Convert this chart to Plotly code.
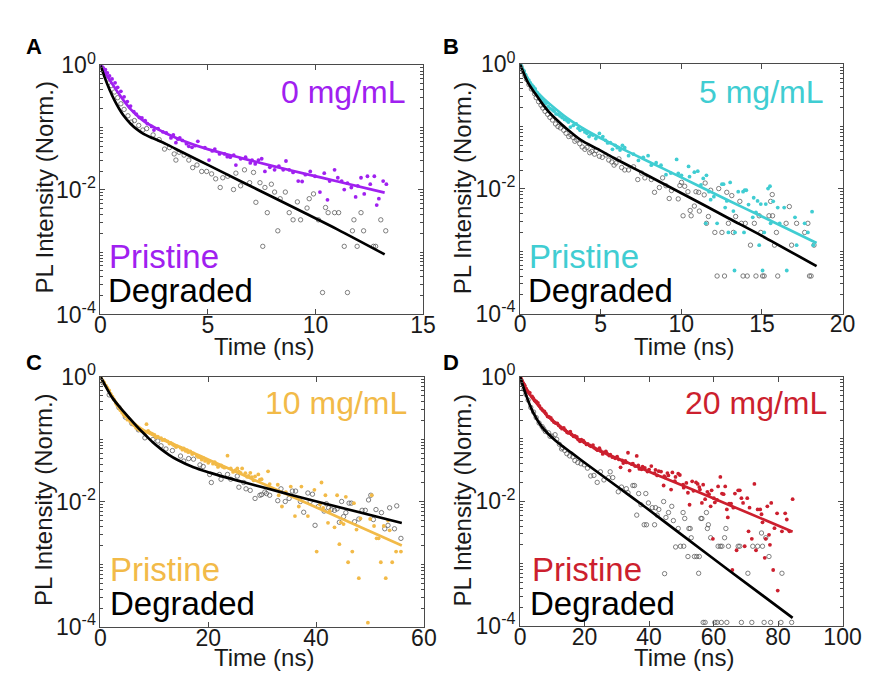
import plotly.graph_objects as go

# ---------------- data (time in ns, normalized PL intensity) ----------------
A_pristine_pts = [(0.05,0.98),(0.12,0.90),(0.23,0.85),(0.32,0.75),(0.42,0.67),(0.54,0.60),(0.68,0.52),(0.80,0.44),(0.95,0.38),(1.10,0.31),(1.25,0.26),(1.40,0.22),(1.55,0.18),(1.67,0.163),(1.81,0.145),(1.93,0.142),(2.08,0.129),(2.18,0.115),(2.38,0.104),(2.49,0.091),(2.68,0.096),(2.90,0.085),(3.06,0.082),(3.28,0.068),(3.39,0.076),(3.51,0.057),(3.60,0.065),(3.69,0.068),(3.81,0.062),(4.00,0.055),(4.11,0.050),(4.26,0.048),(4.40,0.051),(4.53,0.060),(4.86,0.0475),(5.05,0.030),(5.20,0.042),(5.32,0.045),(5.54,0.0376),(5.77,0.0376),(5.90,0.034),(6.04,0.0334),(6.20,0.036),(6.30,0.0249),(6.52,0.0315),(6.75,0.0334),(6.97,0.027),(7.05,0.030),(7.20,0.026),(7.35,0.030),(7.50,0.0315),(7.65,0.0197),(7.88,0.023),(8.10,0.0209),(8.30,0.024),(8.50,0.021),(8.63,0.029),(8.78,0.0209),(8.96,0.019),(9.20,0.0138),(9.38,0.0136),(9.53,0.0175),(9.76,0.0197),(9.98,0.0165),(10.21,0.0092),(10.41,0.0185),(10.56,0.0069),(10.66,0.0138),(10.89,0.0209),(11.04,0.0156),(11.22,0.0138),(11.34,0.0101),(11.49,0.0128),(11.67,0.0109),(11.87,0.0077),(11.97,0.0116),(12.12,0.0156),(12.27,0.0086),(12.42,0.0165),(12.55,0.0123),(12.74,0.0165),(12.85,0.0057),(12.95,0.0072),(13.15,0.0138),(13.30,0.0123)]
A_degraded_pts = [(0.08,0.90),(0.20,0.75),(0.35,0.60),(0.50,0.47),(0.65,0.37),(0.80,0.30),(0.95,0.24),(1.10,0.195),(1.28,0.154),(1.43,0.122),(1.58,0.129),(1.78,0.108),(1.97,0.091),(2.15,0.096),(2.45,0.076),(2.73,0.064),(2.98,0.045),(3.21,0.0475),(3.43,0.0376),(3.51,0.030),(3.66,0.040),(3.89,0.036),(4.11,0.030),(4.29,0.0227),(4.49,0.025),(4.71,0.0197),(4.94,0.0197),(5.17,0.018),(5.36,0.015),(5.57,0.0109),(5.69,0.0156),(5.92,0.0165),(6.19,0.0101),(6.30,0.0185),(6.52,0.0116),(6.70,0.0209),(6.94,0.013),(7.12,0.019),(7.23,0.0063),(7.42,0.013),(7.55,0.00124),(7.65,0.0109),(7.76,0.0043),(7.95,0.0123),(8.10,0.0092),(8.25,0.0022),(8.36,0.0072),(8.60,0.0092),(8.78,0.0043),(8.96,0.0033),(9.16,0.0064),(9.31,0.0033),(9.61,0.0051),(9.71,0.0072),(9.91,0.0086),(10.14,0.0033),(10.33,0.000225),(10.47,0.0052),(10.59,0.0043),(10.89,0.0043),(11.08,0.0043),(11.34,0.00124),(11.49,0.000225),(11.72,0.0022),(11.79,0.0033),(11.94,0.00124),(12.12,0.0043),(12.24,0.0022),(12.70,0.00124),(12.80,0.00124),(13.04,0.0033),(13.27,0.0022)]
A_fit_pristine_t = [0, 0.27, 0.5, 0.8, 1.1, 1.4, 1.7, 2.0, 2.45, 3.06, 3.81, 5.02, 6.52, 8.03, 9.53, 11.04, 13.22]
A_fit_pristine_i = [1, 0.70, 0.53, 0.37, 0.265, 0.197, 0.156, 0.128, 0.103, 0.080, 0.062, 0.0445, 0.0325, 0.0240, 0.0180, 0.0136, 0.0090]
A_fit_degraded_t = [0, 0.2, 0.42, 0.65, 0.87, 1.1, 1.4, 1.7, 2.0, 2.45, 3.06, 3.81, 5.02, 6.52, 8.03, 9.53, 11.04, 13.22]
A_fit_degraded_i = [1, 0.63, 0.407, 0.275, 0.20, 0.151, 0.115, 0.093, 0.079, 0.067, 0.054, 0.040, 0.0249, 0.0137, 0.0076, 0.0042, 0.0023, 0.00092]

B_pristine_pts = [(0.05,0.95),(0.14,0.86),(0.24,0.78),(0.34,0.68),(0.44,0.60),(0.54,0.556),(0.64,0.50),(0.74,0.46),(0.84,0.43),(0.94,0.40),(1.05,0.35),(1.15,0.324),(1.25,0.30),(1.35,0.275),(1.48,0.25),(1.61,0.236),(1.74,0.21),(1.87,0.194),(2.0,0.185),(2.11,0.176),(2.23,0.16),(2.35,0.157),(2.48,0.148),(2.61,0.139),(2.76,0.13),(2.91,0.124),(3.0,0.118),(3.12,0.098),(3.3,0.104),(3.48,0.110),(3.6,0.094),(3.72,0.087),(3.9,0.09),(4.02,0.082),(4.15,0.078),(4.28,0.069),(4.4,0.075),(4.52,0.073),(4.7,0.064),(4.92,0.0775),(5.13,0.069),(5.3,0.06),(5.43,0.0545),(5.6,0.055),(5.73,0.043),(5.9,0.05),(6.03,0.0457),(6.2,0.042),(6.35,0.05),(6.49,0.0457),(6.73,0.034),(7.04,0.036),(7.34,0.0286),(7.64,0.0321),(7.94,0.034),(8.14,0.024),(8.44,0.0263),(8.74,0.024),(9.05,0.0169),(9.35,0.0179),(9.71,0.0296),(9.81,0.0177),(10.01,0.0165),(10.45,0.0229),(10.51,0.0157),(10.81,0.0185),(11.02,0.0192),(11.22,0.0116),(11.36,0.0147),(11.52,0.0028),(11.56,0.0165),(11.72,0.009),(11.82,0.0067),(12.02,0.0075),(12.22,0.0028),(12.52,0.0119),(12.62,0.0119),(12.72,0.005),(12.82,0.0064),(12.92,0.002),(13.03,0.0127),(13.23,0.0044),(13.30,0.00049),(13.33,0.002),(13.53,0.009),(13.83,0.009),(13.89,0.002),(13.93,0.0095),(14.03,0.0095),(14.17,0.0056),(14.43,0.0035),(14.49,0.0072),(14.63,0.0042),(14.73,0.0064),(14.83,0.00125),(14.93,0.0057),(15.04,0.00049),(15.14,0.002),(15.24,0.0057),(15.38,0.0101),(15.50,0.011),(15.54,0.0028),(15.70,0.0063),(15.98,0.005),(16.10,0.0028),(16.38,0.005),(16.54,0.00049),(17.05,0.0035),(17.15,0.00125),(17.65,0.0028),(17.85,0.002),(18.11,0.0043),(18.19,0.00125)]
B_degraded_pts = [(0.05,0.92),(0.20,0.76),(0.3,0.65),(0.40,0.57),(0.55,0.47),(0.70,0.40),(0.90,0.336),(1.0,0.29),(1.15,0.25),(1.3,0.22),(1.41,0.198),(1.55,0.175),(1.71,0.157),(1.85,0.14),(2.01,0.127),(2.2,0.11),(2.35,0.100),(2.5,0.095),(2.71,0.087),(2.85,0.078),(3.02,0.069),(3.15,0.073),(3.28,0.067),(3.4,0.058),(3.52,0.061),(3.7,0.053),(3.85,0.047),(4.02,0.043),(4.15,0.046),(4.32,0.038),(4.45,0.04),(4.62,0.036),(4.72,0.041),(4.92,0.0333),(5.1,0.032),(5.33,0.0349),(5.5,0.029),(5.69,0.027),(5.83,0.024),(5.95,0.026),(6.13,0.0303),(6.3,0.022),(6.49,0.0201),(6.73,0.0201),(7.04,0.0226),(7.30,0.0141),(7.54,0.0179),(7.74,0.015),(8.14,0.0141),(8.34,0.0088),(8.64,0.0105),(8.84,0.015),(9.05,0.0112),(9.25,0.0070),(9.39,0.0094),(9.81,0.0069),(9.91,0.0113),(10.01,0.0127),(10.11,0.0037),(10.21,0.011),(10.41,0.009),(10.55,0.0045),(10.61,0.0037),(10.81,0.0053),(10.91,0.009),(11.08,0.0088),(11.12,0.0044),(11.42,0.008),(11.48,0.0124),(11.56,0.0028),(11.68,0.0036),(11.82,0.0095),(12.08,0.002),(12.22,0.0004),(12.32,0.0101),(12.52,0.002),(12.68,0.0004),(12.82,0.0088),(12.92,0.0028),(13.13,0.0078),(13.23,0.002),(13.37,0.0036),(13.63,0.0063),(13.73,0.0028),(13.83,0.0004),(13.97,0.0028),(14.09,0.0004),(14.29,0.00125),(14.53,0.0028),(14.63,0.0004),(14.83,0.0037),(14.93,0.002),(15.04,0.0004),(15.14,0.0004),(15.44,0.0037),(15.54,0.0063),(15.64,0.0081),(15.66,0.0037),(15.78,0.00125),(15.90,0.002),(15.98,0.0004),(16.50,0.0028),(16.70,0.0052),(16.84,0.00125),(17.15,0.0028),(17.65,0.002),(17.85,0.0028),(17.95,0.0004),(18.05,0.0004),(18.23,0.00125)]
B_fit_pristine_t = [0, 0.5, 0.96, 1.5, 2.17, 2.9, 3.78, 4.8, 5.79, 7.80, 9.71, 12.96, 14.97, 18.39]
B_fit_pristine_i = [1, 0.562, 0.380, 0.275, 0.195, 0.138, 0.0977, 0.0692, 0.0513, 0.0288, 0.0166, 0.00646, 0.00363, 0.00135]
B_fit_degraded_t = [0, 0.5, 0.96, 1.4, 1.77, 2.3, 2.77, 3.78, 4.8, 5.79, 7.8, 10.31, 12.96, 14.97, 18.39]
B_fit_degraded_i = [1, 0.501, 0.331, 0.229, 0.174, 0.126, 0.0977, 0.0603, 0.0437, 0.0316, 0.0170, 0.00776, 0.00335, 0.00178, 0.000575]

C_pristine_pts = [(0.42,0.86),(0.7,0.80),(1.02,0.72),(1.3,0.66),(1.62,0.60),(1.9,0.53),(2.22,0.48),(2.5,0.43),(2.83,0.378),(3.1,0.35),(3.43,0.317),(3.7,0.29),(4.03,0.265),(4.3,0.245),(4.63,0.231),(5.0,0.205),(5.53,0.191),(5.9,0.178),(6.25,0.166),(6.6,0.152),(7.04,0.144),(7.3,0.14),(7.64,0.135),(8.24,0.128),(8.54,0.174),(8.84,0.135),(9.1,0.128),(9.44,0.124),(9.7,0.12),(10.04,0.117),(10.3,0.107),(10.64,0.110),(11.24,0.104),(11.5,0.097),(11.85,0.098),(12.1,0.095),(12.45,0.0925),(12.8,0.085),(13.05,0.087),(13.4,0.083),(13.65,0.080),(14.0,0.075),(14.25,0.0766),(14.85,0.0731),(15.2,0.068),(15.45,0.0713),(15.8,0.065),(16.06,0.0665),(16.3,0.062),(16.66,0.0635),(17.0,0.058),(17.26,0.0592),(17.86,0.0545),(18.1,0.052),(18.46,0.0514),(18.8,0.047),(19.06,0.0502),(19.4,0.045),(19.66,0.0468),(20.0,0.042),(20.26,0.0447),(20.87,0.0406),(21.2,0.043),(21.47,0.0397),(21.8,0.036),(22.07,0.0379),(22.4,0.038),(22.67,0.0361),(23.0,0.035),(23.57,0.0545),(24.17,0.0341),(24.6,0.030),(25.07,0.0321),(25.4,0.034),(25.68,0.0303),(26.0,0.029),(26.28,0.0341),(26.88,0.0286),(27.2,0.025),(27.48,0.026),(27.8,0.029),(28.08,0.0248),(28.4,0.022),(28.68,0.0254),(29.28,0.0273),(29.58,0.0226),(29.89,0.0229),(31.09,0.0307),(31.39,0.0192),(32.89,0.0187),(33.07,0.0127),(33.67,0.0084),(34.40,0.0143),(35.30,0.0175),(36.08,0.0059),(36.80,0.0084),(37.28,0.0175),(38.48,0.0059),(39.69,0.0155),(40.11,0.0016),(40.71,0.009),(41.01,0.0203),(41.31,0.008),(41.73,0.0127),(42.21,0.0046),(42.51,0.0071),(43.42,0.0039),(43.90,0.0127),(44.32,0.0021),(44.62,0.0047),(45.10,0.0044),(45.52,0.012),(45.94,0.00108),(46.72,0.0016),(47.02,0.0095),(47.50,0.0036),(47.93,0.0006),(48.23,0.0054),(49.61,0.000117),(50.03,0.0053),(50.33,0.0127),(50.75,0.0041),(51.23,0.0026),(51.59,0.0026),(52.01,0.00108),(52.56,0.0041),(52.92,0.0006),(53.34,0.005),(53.64,0.0035),(54.12,0.00108),(54.84,0.0016),(55.74,0.0016)]
C_degraded_pts = [(0.42,0.80),(1.62,0.51),(3.43,0.32),(4.63,0.225),(5.83,0.178),(7.04,0.141),(8.24,0.105),(9.74,0.099),(10.64,0.0935),(11.24,0.0784),(12.15,0.0697),(13.35,0.0657),(14.85,0.0538),(15.45,0.0447),(16.36,0.049),(17.26,0.0479),(18.46,0.0388),(19.06,0.0366),(20.26,0.0273),(20.57,0.0203),(22.07,0.0273),(22.37,0.0229),(23.57,0.0273),(24.17,0.0229),(25.38,0.0257),(25.68,0.0171),(26.58,0.0203),(27.0,0.0161),(27.78,0.0152),(28.68,0.0113),(29.58,0.0127),(29.89,0.013),(30.49,0.0143),(30.79,0.0135),(31.39,0.0127),(32.89,0.0104),(33.49,0.0161),(34.28,0.0101),(35.0,0.0113),(35.60,0.0148),(36.20,0.0148),(37.10,0.0101),(37.70,0.0068),(38.48,0.0138),(38.91,0.0101),(39.33,0.0132),(39.81,0.0042),(40.41,0.0084),(41.49,0.0071),(41.91,0.0093),(42.33,0.008),(42.81,0.0075),(43.42,0.0073),(43.90,0.0077),(44.32,0.0047),(44.74,0.0101),(45.10,0.0058),(45.52,0.0067),(46.12,0.0095),(46.54,0.0095),(47.14,0.0048),(47.93,0.0053),(48.53,0.0073),(49.13,0.0073),(49.73,0.0107),(50.15,0.0127),(50.63,0.0052),(51.11,0.0075),(52.13,0.0067),(52.74,0.0037),(53.34,0.0042),(53.64,0.008),(54.54,0.0037),(54.96,0.0086),(55.74,0.0026)]
C_fit_pristine_t = [0, 1.62, 3.4, 5.23, 6.7, 8.24, 11.24, 14.25, 17.26, 20.26, 23.27, 26.28, 30.8, 35.6, 45.8, 55.9]
C_fit_pristine_i = [1, 0.575, 0.339, 0.219, 0.166, 0.135, 0.102, 0.0785, 0.0603, 0.0462, 0.0355, 0.0272, 0.0183, 0.0120, 0.0049, 0.0020]
C_fit_degraded_t = [0, 1.0, 2.22, 3.7, 5.23, 6.7, 8.24, 9.7, 11.24, 12.7, 14.25, 17.26, 20.26, 23.27, 26.28, 30.8, 35.6, 45.8, 55.9]
C_fit_degraded_i = [1, 0.692, 0.457, 0.316, 0.224, 0.162, 0.119, 0.0891, 0.0692, 0.0562, 0.0468, 0.0355, 0.0292, 0.0245, 0.0209, 0.0164, 0.0127, 0.00759, 0.00457]

D_pristine_pts = [(0.25,0.94),(0.50,0.88),(0.75,0.82),(1.01,0.78),(1.25,0.74),(1.51,0.71),(1.9,0.64),(2.31,0.59),(2.7,0.56),(3.02,0.55),(3.72,0.48),(4.1,0.45),(4.52,0.414),(5.0,0.40),(5.53,0.377),(6.0,0.34),(6.53,0.308),(7.0,0.29),(7.54,0.277),(8.0,0.255),(8.54,0.23),(9.0,0.225),(9.55,0.217),(10.0,0.20),(10.55,0.186),(11.0,0.18),(11.56,0.177),(12.0,0.165),(12.56,0.154),(13.0,0.146),(13.57,0.150),(14.0,0.138),(14.57,0.128),(15.0,0.125),(15.58,0.131),(16.0,0.118),(16.58,0.110),(17.0,0.112),(17.59,0.108),(18.0,0.098),(18.59,0.0918),(19.0,0.097),(19.60,0.094),(20.0,0.088),(20.60,0.0816),(21.0,0.083),(21.61,0.0788),(22.0,0.076),(22.61,0.0797),(23.0,0.072),(23.62,0.0684),(24.0,0.066),(24.62,0.071),(25.0,0.064),(25.63,0.0574),(26.0,0.061),(26.63,0.063),(27.0,0.058),(27.64,0.054),(28.0,0.056),(28.64,0.051),(29.5,0.049),(30.1,0.052),(30.65,0.047),(31.16,0.035),(31.66,0.0453),(32.0,0.041),(32.66,0.0443),(33.0,0.042),(33.47,0.060),(33.97,0.0311),(34.67,0.0394),(35.0,0.040),(35.68,0.0367),(36.18,0.0535),(36.68,0.0376),(37.0,0.033),(37.69,0.0326),(38.0,0.036),(38.69,0.0342),(39.5,0.030),(40.0,0.0322),(40.70,0.0367),(41.71,0.0283),(42.0,0.032),(42.5,0.026),(43.0,0.0304),(43.72,0.030),(44.52,0.0179),(44.72,0.0252),(45.0,0.024),(45.7,0.0283),(46.0,0.026),(46.83,0.0154),(47.24,0.029),(48.0,0.021),(48.2,0.0246),(49.05,0.0277),(49.55,0.0264),(50.55,0.0185),(50.75,0.0165),(51.56,0.0197),(52.06,0.0137),(52.56,0.0088),(53.37,0.0209),(53.77,0.0147),(54.57,0.0201),(55.08,0.019),(55.58,0.0169),(55.78,0.0154),(56.38,0.0094),(56.78,0.0185),(57.39,0.0108),(58.09,0.0142),(58.59,0.013),(59.10,0.0083),(59.40,0.015),(59.80,0.0025),(60.10,0.0112),(60.40,0.0096),(61.11,0.0105),(61.41,0.0173),(62.11,0.0246),(62.61,0.0133),(63.12,0.013),(63.62,0.0173),(64.12,0.0074),(64.42,0.0055),(64.82,0.0092),(65.43,0.0092),(65.83,0.00079),(66.13,0.0079),(66.63,0.0133),(67.14,0.00164),(67.64,0.015),(68.14,0.015),(68.64,0.0112),(69.15,0.0094),(69.65,0.0019),(70.45,0.0112),(70.85,0.0033),(71.16,0.0079),(71.86,0.0025),(72.66,0.019),(73.17,0.00164),(73.67,0.0074),(74.47,0.0074),(74.87,0.0062),(75.18,0.0046),(75.88,0.00124),(76.18,0.0025),(76.68,0.0083),(77.19,0.0029),(77.49,0.002),(77.89,0.0094),(78.49,0.00079),(78.89,0.0037),(79.70,0.0064),(79.90,0.00037),(81.21,0.0033),(82.21,0.0064),(82.71,0.0051),(83.52,0.0033),(84.52,0.0108)]
D_degraded_pts = [(0.4,0.85),(0.80,0.77),(1.2,0.63),(1.8,0.52),(2.5,0.42),(3.32,0.32),(4.2,0.27),(5.0,0.22),(5.9,0.18),(6.83,0.158),(7.3,0.145),(7.84,0.132),(8.84,0.125),(9.3,0.11),(9.85,0.111),(10.85,0.117),(11.36,0.0986),(12.2,0.082),(12.86,0.0692),(13.2,0.072),(13.87,0.0653),(14.5,0.058),(15.38,0.0535),(16.38,0.0516),(17.0,0.045),(17.89,0.0418),(18.9,0.040),(19.90,0.0385),(20.9,0.034),(21.91,0.0255),(22.9,0.026),(23.92,0.0201),(24.92,0.0297),(26.0,0.022),(27.44,0.024),(27.94,0.0297),(28.74,0.024),(30.45,0.0142),(31.46,0.0169),(32.96,0.0159),(33.47,0.0137),(34.97,0.0179),(35.48,0.0179),(36.18,0.006),(36.78,0.0133),(37.49,0.0088),(38.49,0.0042),(38.99,0.0133),(39.20,0.0042),(39.80,0.0094),(41.0,0.0079),(41.71,0.0042),(42.01,0.0079),(42.51,0.006),(43.02,0.0074),(44.52,0.0099),(44.82,0.00069),(45.23,0.0055),(46.03,0.0066),(47.04,0.0083),(47.54,0.0049),(48.24,0.00185),(49.05,0.00366),(49.75,0.0019),(50.55,0.0066),(50.75,0.0019),(51.06,0.0053),(52.06,0.0013),(52.36,0.00366),(52.76,0.00366),(53.07,0.0026),(54.07,0.0013),(54.77,0.0013),(55.38,0.0007),(55.58,0.0013),(56.08,0.0053),(56.38,0.0053),(56.78,0.000114),(57.39,0.000114),(57.79,0.0066),(58.09,0.00366),(58.39,0.0042),(59.10,0.0026),(60.40,0.000114),(61.11,0.000114),(61.41,0.0019),(62.11,0.0019),(62.41,0.000114),(62.61,0.0019),(63.42,0.0026),(63.82,0.00366),(64.12,0.000114),(64.62,0.0019),(67.64,0.0019),(68.14,0.0019),(68.64,0.000114),(70.65,0.0007),(71.86,0.000114),(72.16,0.0019),(73.67,0.0019),(74.87,0.0031),(75.18,0.0019),(75.68,0.000114),(76.18,0.0026),(77.19,0.0013),(77.69,0.000114),(80.90,0.000114),(81.21,0.0007),(84.22,0.000114)]
D_fit_pristine_t = [0, 1.81, 4.82, 8.84, 13.87, 18.89, 23.92, 28.94, 33.97, 38.99, 44.02, 51.56, 64.82, 84.52]
D_fit_pristine_i = [1, 0.631, 0.389, 0.224, 0.140, 0.0929, 0.0676, 0.0516, 0.0403, 0.0314, 0.0245, 0.0169, 0.00875, 0.00325]
D_fit_degraded_t = [0, 1.81, 3.82, 6.83, 10.85, 15.88, 20.90, 28.94, 38.99, 48.54, 64.82, 84.52]
D_fit_degraded_i = [1, 0.513, 0.282, 0.155, 0.0955, 0.0603, 0.0385, 0.0191, 0.00794, 0.00335, 0.000776, 0.000135]

x_ranges = {"A": [0, 15], "B": [0, 20], "C": [0, 60], "D": [0, 100]}
x_dticks = {"A": 5, "B": 5, "C": 20, "D": 20}
concentrations = {"A": "0 mg/mL", "B": "5 mg/mL", "C": "10 mg/mL", "D": "20 mg/mL"}
colors = {"A": "#A020F0", "B": "#40CDD2", "C": "#F2BA48", "D": "#CC1F2E"}
y_tickvals = [1e-4, 1e-2, 1]
y_ticktext = ["10<sup>-4</sup>", "10<sup>-2</sup>", "10<sup>0</sup>"]

# ---------------- layout helpers ----------------
W, H = 872, 673
FONT = "Liberation Sans, Arial, sans-serif"

def px(x):
    return x / W

def py(y):
    return 1 - y / H

# plot areas in pixels: x0, x1, y_top, y_bottom
boxes = {"A": (89, 421, 42, 303), "B": (521, 853, 41, 302),
         "C": (89, 422, 368, 630), "D": (521, 853, 368, 629)}
# text anchors in pixels
label_pos = {"A": (21, 22), "B": (450, 22), "C": (21, 353), "D": (450, 353)}
conc_pos = {"A": (405, 70), "B": (835, 70), "C": (407, 396), "D": (839, 396)}
pris_pos = {"A": (96, 242), "B": (528, 242), "C": (97, 570), "D": (531, 570)}
degr_pos = {"A": (95, 278), "B": (527, 278), "C": (97, 606), "D": (529, 606)}
ytitle_pos = {"A": (31, 170), "B": (462, 170), "C": (31, 497), "D": (462, 497)}
xtitle_pos = {"A": (257, 336), "B": (690, 336), "C": (257, 662), "D": (690, 662)}

minor_vals = [m * 10 ** e for e in range(-4, 0) for m in range(1, 10) if not (m == 1 and e % 2 == 0)]

fig = go.Figure()
layout = dict(width=W, height=H, margin=dict(l=0, r=0, t=0, b=0),
              paper_bgcolor="white", plot_bgcolor="white", showlegend=False,
              font=dict(family=FONT, color="#111"))
annotations = []

data = {
    "A": (A_pristine_pts, A_degraded_pts, A_fit_pristine_t, A_fit_pristine_i, A_fit_degraded_t, A_fit_degraded_i),
    "B": (B_pristine_pts, B_degraded_pts, B_fit_pristine_t, B_fit_pristine_i, B_fit_degraded_t, B_fit_degraded_i),
    "C": (C_pristine_pts, C_degraded_pts, C_fit_pristine_t, C_fit_pristine_i, C_fit_degraded_t, C_fit_degraded_i),
    "D": (D_pristine_pts, D_degraded_pts, D_fit_pristine_t, D_fit_pristine_i, D_fit_degraded_t, D_fit_degraded_i),
}

for k, key in enumerate(["A", "B", "C", "D"]):
    idx = "" if k == 0 else str(k + 1)
    xa, ya = "x" + idx, "y" + idx
    pris, degr, fpt, fpi, fdt, fdi = data[key]
    col = colors[key]

    fig.add_trace(go.Scatter(x=[p[0] for p in degr], y=[p[1] for p in degr], mode="markers",
                             marker=dict(symbol="circle-open", size=4.4, color="#555555", line=dict(width=0.75)),
                             xaxis=xa, yaxis=ya, hoverinfo="skip"))
    fig.add_trace(go.Scatter(x=[p[0] for p in pris], y=[p[1] for p in pris], mode="markers",
                             marker=dict(symbol="circle", size=3.8, color=col),
                             xaxis=xa, yaxis=ya, hoverinfo="skip"))
    fig.add_trace(go.Scatter(x=fpt, y=fpi, mode="lines", line=dict(color=col, width=2.7, shape="spline", smoothing=0.8),
                             xaxis=xa, yaxis=ya, hoverinfo="skip"))
    fig.add_trace(go.Scatter(x=fdt, y=fdi, mode="lines", line=dict(color="black", width=2.7, shape="spline", smoothing=0.8),
                             xaxis=xa, yaxis=ya, hoverinfo="skip"))

    x0, x1, yt, yb = boxes[key]
    axis_common = dict(showgrid=False, zeroline=False, showline=True, linecolor="#4a4a4a", linewidth=1,
                       mirror="ticks", ticks="inside", tickcolor="#4a4a4a", ticklen=5, tickwidth=1,
                       tickfont=dict(family=FONT, size=23, color="#1a1a1a"))
    layout["xaxis" + idx] = dict(axis_common, domain=[px(x0), px(x1)], range=x_ranges[key],
                                 dtick=x_dticks[key], tick0=0, anchor=ya, ticklabelstandoff=-10)
    layout["yaxis" + idx] = dict(axis_common, domain=[py(yb), py(yt)], type="log", range=[-4, 0],
                                 tickvals=y_tickvals, ticktext=y_ticktext, anchor=xa, ticklabelstandoff=-1,
                                 minor=dict(tickvals=minor_vals, ticks="inside", ticklen=3,
                                            tickcolor="#4a4a4a", tickwidth=0.8))

    lx, ly = label_pos[key]
    annotations.append(dict(text="<b>%s</b>" % key, x=px(lx), y=py(ly), xref="paper", yref="paper",
                            showarrow=False, xanchor="center", yanchor="middle",
                            font=dict(family=FONT, size=22, color="black")))
    cx, cy = conc_pos[key]
    annotations.append(dict(text=concentrations[key], x=px(cx), y=py(cy), xref="paper", yref="paper",
                            showarrow=False, xanchor="right", yanchor="middle",
                            font=dict(family=FONT, size=32, color=col)))
    qx, qy = pris_pos[key]
    annotations.append(dict(text="Pristine", x=px(qx), y=py(qy), xref="paper", yref="paper",
                            showarrow=False, xanchor="left", yanchor="middle",
                            font=dict(family=FONT, size=33, color=col)))
    dx_, dy_ = degr_pos[key]
    annotations.append(dict(text="Degraded", x=px(dx_), y=py(dy_), xref="paper", yref="paper",
                            showarrow=False, xanchor="left", yanchor="middle",
                            font=dict(family=FONT, size=33, color="black")))
    tx, ty = ytitle_pos[key]
    annotations.append(dict(text="PL Intensity (Norm.)", x=px(tx), y=py(ty), xref="paper", yref="paper",
                            showarrow=False, xanchor="center", yanchor="middle", textangle=-90,
                            font=dict(family=FONT, size=24, color="#1a1a1a")))
    sx, sy = xtitle_pos[key]
    annotations.append(dict(text="Time (ns)", x=px(sx), y=py(sy), xref="paper", yref="paper",
                            showarrow=False, xanchor="center", yanchor="middle",
                            font=dict(family=FONT, size=24, color="#1a1a1a")))

layout["annotations"] = annotations
fig.update_layout(**layout)
fig.write_html("out.html")
